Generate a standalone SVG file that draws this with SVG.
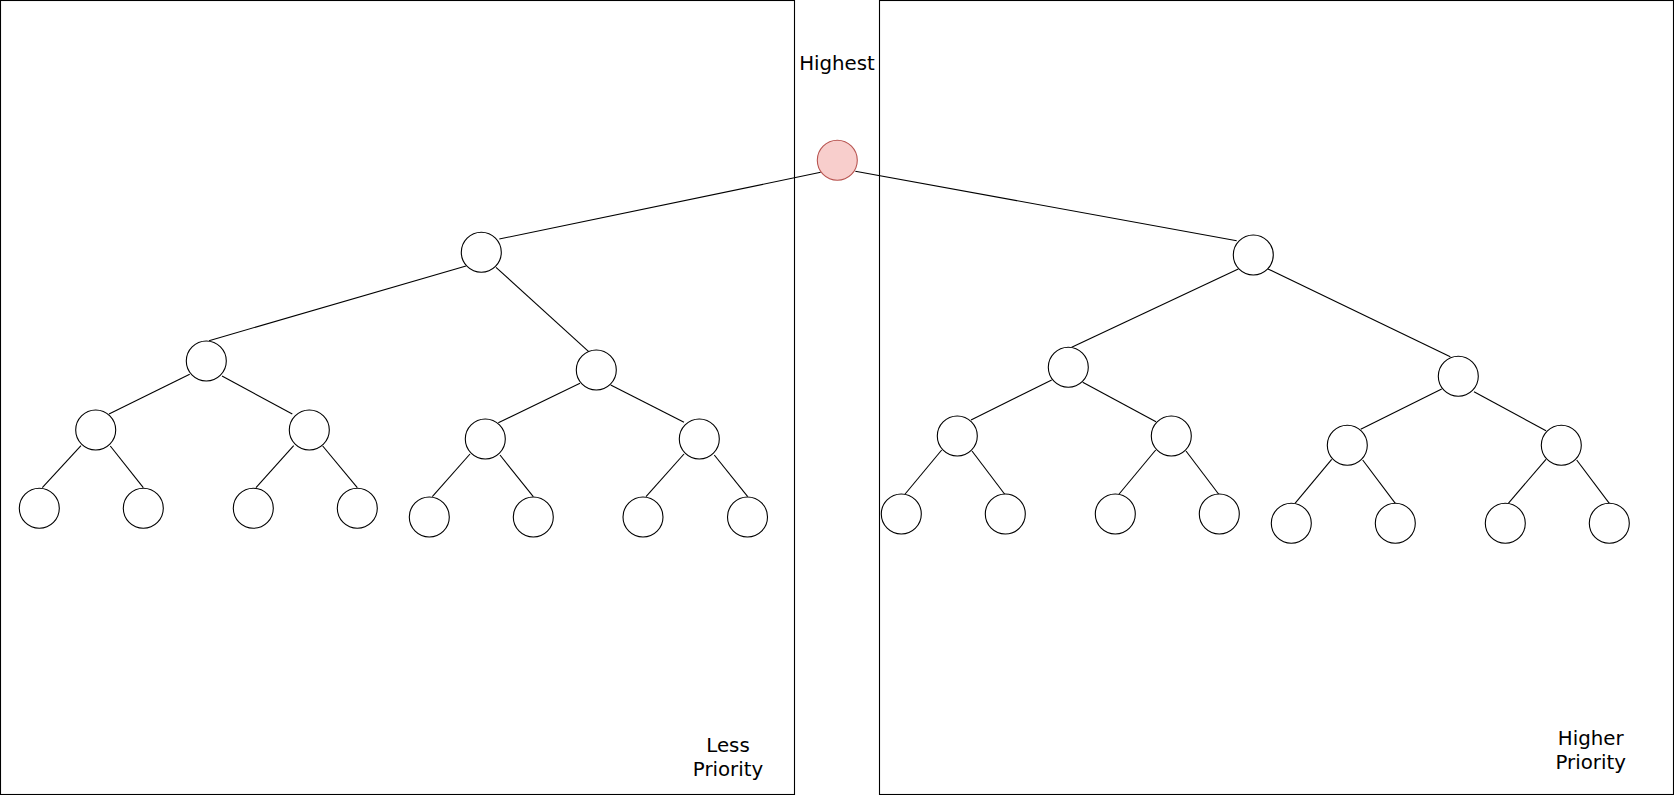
<svg xmlns="http://www.w3.org/2000/svg" width="1674" height="795" viewBox="0 0 1674 795">
<style>
.box{fill:#ffffff;stroke:#000000;stroke-width:1.1}
.n{fill:#ffffff;stroke:#000000;stroke-width:1.1}
.hi{fill:#f8cecc;stroke:#b85450;stroke-width:1.1}
.e{stroke:#000000;stroke-width:1.1;fill:none}
.t{font-family:"DejaVu Sans","Liberation Sans",sans-serif;font-size:19.8px;fill:#000000;text-anchor:middle}
</style>
<rect width="1674" height="795" fill="#ffffff"/>
<g id="box-left"><rect class="box" x="0.5" y="0.5" width="794" height="794"/></g>
<g id="box-right"><rect class="box" x="879.5" y="0.5" width="794" height="794"/></g>
<g id="connectors">
<line class="e" x1="820.7" y1="172.3" x2="499.3" y2="239"/>
<line class="e" x1="855.3" y1="171.3" x2="1236.7" y2="240.7"/>
<line class="e" x1="466" y1="266" x2="209" y2="340.7"/>
<line class="e" x1="496" y1="267.3" x2="588.7" y2="351.7"/>
<line class="e" x1="189.7" y1="374.3" x2="109" y2="414"/>
<line class="e" x1="222" y1="376" x2="292.3" y2="414"/>
<line class="e" x1="81" y1="445.7" x2="42.3" y2="487.7"/>
<line class="e" x1="110.3" y1="446" x2="143.3" y2="487.7"/>
<line class="e" x1="293.7" y1="445.7" x2="256" y2="487.7"/>
<line class="e" x1="322.7" y1="446" x2="357.3" y2="487.7"/>
<line class="e" x1="580" y1="383.3" x2="498.3" y2="422.7"/>
<line class="e" x1="610.7" y1="385" x2="684" y2="422.3"/>
<line class="e" x1="470" y1="454" x2="432.3" y2="496.7"/>
<line class="e" x1="500" y1="455" x2="533.3" y2="496.7"/>
<line class="e" x1="684" y1="454" x2="646" y2="496.7"/>
<line class="e" x1="714.3" y1="455" x2="747.7" y2="496.7"/>
<line class="e" x1="1238.3" y1="269" x2="1071.7" y2="347.3"/>
<line class="e" x1="1268" y1="269" x2="1450.3" y2="356.7"/>
<line class="e" x1="1051.7" y1="380" x2="971" y2="420"/>
<line class="e" x1="1082.7" y1="382.3" x2="1156" y2="421.7"/>
<line class="e" x1="941.7" y1="450" x2="904.3" y2="495"/>
<line class="e" x1="972" y1="451" x2="1005.3" y2="495"/>
<line class="e" x1="1155.7" y1="450" x2="1118.3" y2="495"/>
<line class="e" x1="1186" y1="451" x2="1219.3" y2="495"/>
<line class="e" x1="1441.7" y1="389" x2="1360.7" y2="429.3"/>
<line class="e" x1="1474" y1="391.7" x2="1546" y2="430.7"/>
<line class="e" x1="1331.7" y1="459.3" x2="1295" y2="503.3"/>
<line class="e" x1="1362.7" y1="460" x2="1395.3" y2="503.3"/>
<line class="e" x1="1546" y1="459.3" x2="1508.3" y2="503.3"/>
<line class="e" x1="1576.7" y1="460" x2="1609.3" y2="503.3"/>
</g>
<g id="highest"><circle class="hi" cx="837.3" cy="160.3" r="20"/></g>
<g id="L1"><circle class="n" cx="481.3" cy="252.3" r="20"/></g>
<g id="L2a"><circle class="n" cx="206.3" cy="361" r="20"/></g>
<g id="L2b"><circle class="n" cx="596.3" cy="370" r="20"/></g>
<g id="L3a"><circle class="n" cx="95.7" cy="430" r="20"/></g>
<g id="L3b"><circle class="n" cx="309.3" cy="430" r="20"/></g>
<g id="L3c"><circle class="n" cx="485.3" cy="439" r="20"/></g>
<g id="L3d"><circle class="n" cx="699.3" cy="439" r="20"/></g>
<g id="L4a"><circle class="n" cx="39.3" cy="508.3" r="20"/></g>
<g id="L4b"><circle class="n" cx="143.3" cy="508.3" r="20"/></g>
<g id="L4c"><circle class="n" cx="253.3" cy="508.3" r="20"/></g>
<g id="L4d"><circle class="n" cx="357.3" cy="508.3" r="20"/></g>
<g id="L4e"><circle class="n" cx="429.3" cy="517" r="20"/></g>
<g id="L4f"><circle class="n" cx="533.3" cy="517" r="20"/></g>
<g id="L4g"><circle class="n" cx="643" cy="517" r="20"/></g>
<g id="L4h"><circle class="n" cx="747.5" cy="517" r="20"/></g>
<g id="R1"><circle class="n" cx="1253.3" cy="255" r="20"/></g>
<g id="R2a"><circle class="n" cx="1068.3" cy="367.3" r="20"/></g>
<g id="R2b"><circle class="n" cx="1458.3" cy="376.3" r="20"/></g>
<g id="R3a"><circle class="n" cx="957.3" cy="436" r="20"/></g>
<g id="R3b"><circle class="n" cx="1171.3" cy="436" r="20"/></g>
<g id="R3c"><circle class="n" cx="1347.3" cy="445.3" r="20"/></g>
<g id="R3d"><circle class="n" cx="1561.3" cy="445.3" r="20"/></g>
<g id="R4a"><circle class="n" cx="901.3" cy="514" r="20"/></g>
<g id="R4b"><circle class="n" cx="1005.3" cy="514" r="20"/></g>
<g id="R4c"><circle class="n" cx="1115.3" cy="514" r="20"/></g>
<g id="R4d"><circle class="n" cx="1219.3" cy="514" r="20"/></g>
<g id="R4e"><circle class="n" cx="1291.3" cy="523.3" r="20"/></g>
<g id="R4f"><circle class="n" cx="1395.3" cy="523.3" r="20"/></g>
<g id="R4g"><circle class="n" cx="1505.3" cy="523.3" r="20"/></g>
<g id="R4h"><circle class="n" cx="1609.3" cy="523.3" r="20"/></g>
<g id="label-highest"><text class="t" x="837" y="70">Highest</text></g>
<g id="label-less"><text class="t" x="728" y="751.7">Less</text><text class="t" x="728" y="775.7">Priority</text></g>
<g id="label-higher"><text class="t" x="1590.7" y="745">Higher</text><text class="t" x="1590.7" y="769">Priority</text></g>
</svg>
